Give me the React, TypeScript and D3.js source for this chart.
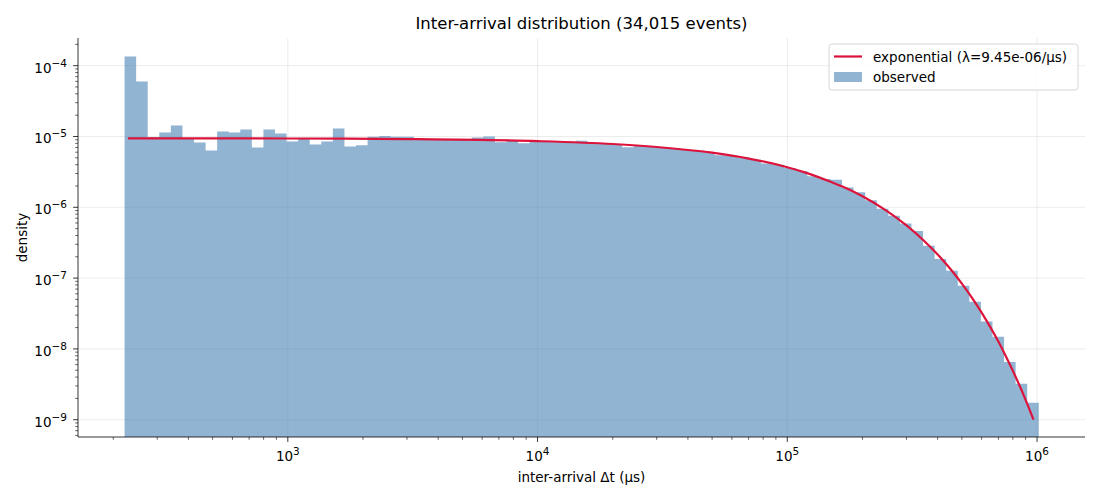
import * as d3 from 'd3';

// histogram: 79 log-spaced bins between the min and max inter-arrival time (μs)
const BIN_LO = 222;
const BIN_HI = 1.016e6;
const DENSITY = [
  1.35e-4, 5.98e-5, 9.8e-6, 1.14e-5, 1.43e-5, 9.2e-6, 8.2e-6, 6.34e-6, 1.18e-5, 1.14e-5,
  1.26e-5, 7.0e-6, 1.26e-5, 1.1e-5, 8.5e-6, 9.3e-6, 7.7e-6, 8.5e-6, 1.3e-5, 7.2e-6,
  7.5e-6, 9.9e-6, 1.02e-5, 9.9e-6, 9.9e-6, 9.3e-6, 9.0e-6, 9.2e-6, 9.1e-6, 9.2e-6,
  9.7e-6, 1.0e-5, 8.3e-6, 8.9e-6, 8.0e-6, 8.6e-6, 8.5e-6, 8.4e-6, 8.3e-6, 8.7e-6,
  8.05e-6, 7.95e-6, 7.75e-6, 7.06e-6, 7.45e-6, 7.2e-6, 7.0e-6, 6.8e-6, 6.5e-6, 6.3e-6,
  6.0e-6, 5.44e-6, 5.35e-6, 5.05e-6, 4.7e-6, 4.16e-6, 4.0e-6, 3.6e-6, 3.25e-6, 2.75e-6,
  2.5e-6, 2.45e-6, 1.91e-6, 1.63e-6, 1.26e-6, 9.56e-7, 7.62e-7, 5.88e-7, 4.62e-7, 2.87e-7,
  1.86e-7, 1.27e-7, 7.82e-8, 4.65e-8, 2.43e-8, 1.49e-8, 6.53e-9, 3.23e-9, 1.74e-9,
];

// fitted exponential curve
const FIT_T = [
  229, 1000, 3000, 10000, 20000, 30000, 50000, 70000, 100000, 120000, 150000, 175000,
  200000, 250000, 300000, 350000, 400000, 450000, 500000, 550000, 600000, 650000,
  700000, 750000, 800000, 850000, 900000, 968000,
];
const FIT_DENSITY = [
  9.43e-6, 9.36e-6, 9.19e-6, 8.6e-6, 7.83e-6, 7.11e-6, 5.9e-6, 4.88e-6, 3.68e-6, 3.04e-6,
  2.27e-6, 1.81e-6, 1.43e-6, 8.9e-7, 5.55e-7, 3.46e-7, 2.16e-7, 1.345e-7, 8.38e-8, 5.23e-8,
  3.26e-8, 2.03e-8, 1.27e-8, 7.9e-9, 4.92e-9, 3.07e-9, 1.91e-9, 1.0e-9,
];

const X_TICKS = [1e3, 1e4, 1e5, 1e6];
const X_TICK_EXP = ['3', '4', '5', '6'];
const Y_TICKS = [1e-9, 1e-8, 1e-7, 1e-6, 1e-5, 1e-4];
const Y_TICK_EXP = ['−9', '−8', '−7', '−6', '−5', '−4'];

const TITLE = 'Inter-arrival distribution (34,015 events)';
const X_LABEL = 'inter-arrival Δt (μs)';
const Y_LABEL = 'density';
const FIT_LABEL = 'exponential (λ=9.45e-06/μs)';
const HIST_LABEL = 'observed';

const FONT = '"DejaVu Sans", sans-serif';
const BAR_COLOR = 'steelblue';
const LINE_COLOR = 'crimson';

export default function App() {
  const width = 1100;
  const height = 500;
  const left = 78;
  const right = 1085;
  const top = 38;
  const bottom = 437;

  const x = d3.scaleLog().domain([144.5, 1.556e6]).range([left, right]);
  const y = d3.scaleLog().domain([5.7e-10, 2.46e-4]).range([bottom, top]);

  const n = DENSITY.length;
  const edges = d3.range(n + 1).map((i) => BIN_LO * Math.pow(BIN_HI / BIN_LO, i / n));

  // one path for all bars, so neighbouring bars show no seams
  const histPath = d3.path();
  DENSITY.forEach((d, i) => {
    histPath.rect(x(edges[i]), y(d), x(edges[i + 1]) - x(edges[i]), bottom - y(d));
  });

  const minorX: number[] = [];
  for (let d = 2; d <= 6; d++) {
    for (let k = 2; k <= 9; k++) {
      const v = k * Math.pow(10, d);
      if (v > x.domain()[0] && v < x.domain()[1]) minorX.push(v);
    }
  }
  const minorY: number[] = [];
  for (let d = -10; d <= -4; d++) {
    for (let k = 2; k <= 9; k++) {
      const v = k * Math.pow(10, d);
      if (v > y.domain()[0] && v < y.domain()[1]) minorY.push(v);
    }
  }

  const fitPath =
    d3
      .line<number>()
      .x((_, i) => x(FIT_T[i]))
      .y((d) => y(d))
      .curve(d3.curveMonotoneX)(FIT_DENSITY) ?? '';

  const gridColor = '#b0b0b0';
  const lx = 829;
  const ly = 44;

  return (
    <svg
      width={width}
      height={height}
      style={{ position: 'absolute', left: 0, top: 0, background: '#fff' }}
      fontFamily={FONT}
    >
      <rect width={width} height={height} fill="#fff" />

      {/* grid */}
      <g stroke={gridColor} strokeOpacity={0.3} strokeWidth={0.8}>
        {X_TICKS.map((t) => (
          <line key={`gx${t}`} x1={x(t)} x2={x(t)} y1={top} y2={bottom} />
        ))}
        {Y_TICKS.map((t) => (
          <line key={`gy${t}`} x1={left} x2={right} y1={y(t)} y2={y(t)} />
        ))}
      </g>

      {/* histogram */}
      <path d={histPath.toString()} fill={BAR_COLOR} fillOpacity={0.6} />

      {/* fit */}
      <path d={fitPath} fill="none" stroke={LINE_COLOR} strokeWidth={2.2} />

      {/* axes */}
      <g stroke="#000" strokeWidth={0.8}>
        <line x1={left} x2={right} y1={bottom} y2={bottom} />
        <line x1={left} x2={left} y1={top} y2={bottom} />
        {X_TICKS.map((t) => (
          <line key={`tx${t}`} x1={x(t)} x2={x(t)} y1={bottom} y2={bottom + 4.9} />
        ))}
        {minorX.map((t) => (
          <line key={`mx${t}`} x1={x(t)} x2={x(t)} y1={bottom} y2={bottom + 2.8} strokeWidth={0.6} />
        ))}
        {Y_TICKS.map((t) => (
          <line key={`ty${t}`} x1={left - 4.9} x2={left} y1={y(t)} y2={y(t)} />
        ))}
        {minorY.map((t) => (
          <line key={`my${t}`} x1={left - 2.8} x2={left} y1={y(t)} y2={y(t)} strokeWidth={0.6} />
        ))}
      </g>

      {X_TICKS.map((t, i) => (
        <text key={`lx${t}`} x={x(t)} y={bottom + 24} textAnchor="middle" fontSize={13.5}>
          10
          <tspan dy={-6} fontSize={10.5}>
            {X_TICK_EXP[i]}
          </tspan>
        </text>
      ))}
      {Y_TICKS.map((t, i) => (
        <text key={`ly${t}`} x={left - 11} y={y(t) + 7} textAnchor="end" fontSize={13.5}>
          10
          <tspan dy={-6} fontSize={10.5}>
            {Y_TICK_EXP[i]}
          </tspan>
        </text>
      ))}

      <text x={(left + right) / 2} y={29} textAnchor="middle" fontSize={16.5}>
        {TITLE}
      </text>
      <text x={(left + right) / 2} y={482} textAnchor="middle" fontSize={13.5}>
        {X_LABEL}
      </text>
      <text
        transform={`translate(27, ${(top + bottom) / 2}) rotate(-90)`}
        textAnchor="middle"
        fontSize={13.5}
      >
        {Y_LABEL}
      </text>

      {/* legend */}
      <g>
        <rect
          x={lx}
          y={ly}
          width={249}
          height={46}
          rx={3}
          fill="#fff"
          fillOpacity={0.8}
          stroke="#cccccc"
          strokeWidth={0.8}
        />
        <line x1={lx + 5} x2={lx + 33} y1={ly + 12.5} y2={ly + 12.5} stroke={LINE_COLOR} strokeWidth={2.2} />
        <text x={lx + 44} y={ly + 17.5} fontSize={13.5}>
          {FIT_LABEL}
        </text>
        <rect x={lx + 5} y={ly + 28} width={28} height={10} fill={BAR_COLOR} fillOpacity={0.6} />
        <text x={lx + 44} y={ly + 38} fontSize={13.5}>
          {HIST_LABEL}
        </text>
      </g>
    </svg>
  );
}
